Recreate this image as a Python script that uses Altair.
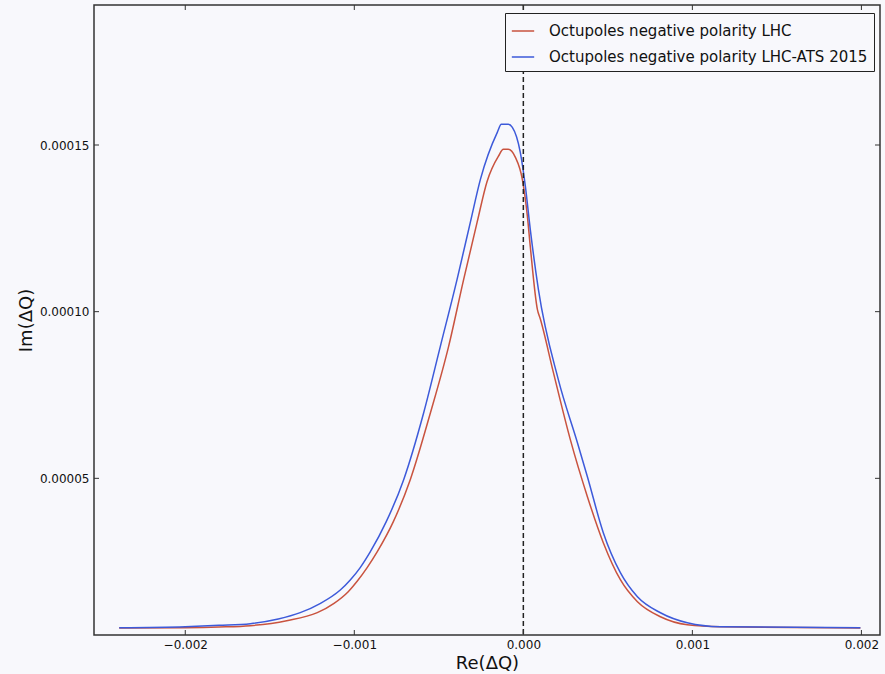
import altair as alt
import pandas as pd

# Series values
lhc_x = [-2.391e-3, -2.0e-3, -1.8e-3, -1.615e-3, -1.4e-3, -1.219e-3, -1.12e-3, -1.036e-3,
         -0.982e-3, -0.923e-3, -0.864e-3, -0.769e-3, -0.669e-3, -0.550e-3, -0.442e-3,
         -0.353e-3, -0.274e-3, -0.215e-3, -0.148e-3, -0.118e-3, -0.089e-3, -0.047e-3,
         -0.006e-3, 0.024e-3, 0.041e-3, 0.083e-3, 0.101e-3, 0.178e-3, 0.278e-3, 0.379e-3,
         0.473e-3, 0.574e-3, 0.675e-3, 0.811e-3, 0.970e-3, 1.166e-3, 1.994e-3]
lhc_y = [5.1e-6, 5.2e-6, 5.4e-6, 5.8e-6, 7.3e-6, 9.7e-6, 1.25e-5, 1.6e-5,
         1.92e-5, 2.33e-5, 2.8e-5, 3.7e-5, 4.96e-5, 6.96e-5, 8.96e-5,
         1.097e-4, 1.267e-4, 1.39e-4, 1.466e-4, 1.487e-4, 1.487e-4, 1.463e-4,
         1.397e-4, 1.286e-4, 1.196e-4, 1.007e-4, 9.77e-5, 8.17e-5, 6.16e-5, 4.45e-5,
         3.07e-5, 1.958e-5, 1.297e-5, 8.47e-6, 6.07e-6, 5.47e-6, 5.1e-6]

ats_x = [-2.391e-3, -2.0e-3, -1.8e-3, -1.615e-3, -1.45e-3, -1.320e-3, -1.2e-3, -1.083e-3,
         -1.024e-3, -0.964e-3, -0.905e-3, -0.811e-3, -0.708e-3, -0.590e-3, -0.491e-3,
         -0.392e-3, -0.314e-3, -0.254e-3, -0.154e-3, -0.130e-3, -0.089e-3, -0.065e-3,
         -0.018e-3, 0.012e-3, 0.041e-3, 0.089e-3, 0.207e-3, 0.320e-3, 0.379e-3, 0.473e-3,
         0.574e-3, 0.675e-3, 0.811e-3, 0.970e-3, 1.166e-3, 1.994e-3]
ats_y = [5.2e-6, 5.5e-6, 5.9e-6, 6.4e-6, 7.8e-6, 9.7e-6, 1.25e-5, 1.65e-5,
         1.95e-5, 2.33e-5, 2.8e-5, 3.7e-5, 4.96e-5, 6.96e-5, 8.96e-5,
         1.097e-4, 1.267e-4, 1.397e-4, 1.538e-4, 1.562e-4, 1.562e-4, 1.553e-4,
         1.478e-4, 1.376e-4, 1.247e-4, 1.067e-4, 7.96e-5, 6.07e-5, 5.05e-5, 3.37e-5,
         2.17e-5, 1.447e-5, 9.67e-6, 6.67e-6, 5.47e-6, 5.2e-6]

series_names = ["Octupoles negative polarity LHC", "Octupoles negative polarity LHC-ATS 2015"]
series_colors = ["#c9533f", "#3d5ada"]

x_ticks = [-0.002, -0.001, 0.0, 0.001, 0.002]
y_ticks = [0.00005, 0.00010, 0.00015]
x_domain = [-0.00254, 0.00211]
y_domain = [0.000003, 0.000192]

W, H = 786, 630

df = pd.concat([
    pd.DataFrame({"x": lhc_x, "y": lhc_y, "series": series_names[0]}),
    pd.DataFrame({"x": ats_x, "y": ats_y, "series": series_names[1]}),
])

xs = alt.Scale(domain=x_domain, nice=False, zero=False)
ys = alt.Scale(domain=y_domain, nice=False, zero=False)

x_axis = alt.Axis(values=x_ticks, format=".3f", title="Re(ΔQ)", grid=False, tickSize=0,
                  labelPadding=4, labelFontSize=12, titleFontSize=18, titlePadding=4,
                  labelFont="DejaVu Sans", titleFont="DejaVu Sans", titleFontWeight="normal",
                  labelColor="#111", titleColor="#111", domain=False)
y_axis = alt.Axis(values=y_ticks, format=".5f", title="Im(ΔQ)", grid=False, tickSize=0,
                  labelPadding=5, labelFontSize=12, titleFontSize=18, titlePadding=4,
                  labelFont="DejaVu Sans", titleFont="DejaVu Sans", titleFontWeight="normal",
                  labelColor="#111", titleColor="#111", domain=False)

lines = alt.Chart(df).mark_line(strokeWidth=1.5, clip=True, interpolate="monotone").encode(
    x=alt.X("x:Q", scale=xs, axis=x_axis),
    y=alt.Y("y:Q", scale=ys, axis=y_axis),
    color=alt.Color("series:N", scale=alt.Scale(domain=series_names, range=series_colors),
                    legend=alt.Legend(title=None, orient="none", legendX=411, legendY=8,
                                      symbolType="stroke", symbolSize=500, symbolStrokeWidth=1.5,
                                      labelFontSize=15, labelFont="DejaVu Sans", labelColor="#111",
                                      labelLimit=500, labelOffset=14, rowPadding=6,
                                      padding=6, strokeColor="#222", fillColor="#f8f8fc",
                                      cornerRadius=0)),
    detail="series:N",
)

zero_df = pd.DataFrame({"x": [0.0]})
zero_line = alt.Chart(zero_df).mark_rule(color="#222", strokeDash=[5, 3], strokeWidth=1.5).encode(
    x=alt.X("x:Q", scale=xs)
)

xt = pd.DataFrame({"x": x_ticks})
yt = pd.DataFrame({"y": y_ticks})
tick_style = dict(color="#333", strokeWidth=1)
xt_bottom = alt.Chart(xt).mark_rule(**tick_style).encode(
    x=alt.X("x:Q", scale=xs), y=alt.value(H), y2=alt.value(H - 5))
xt_top = alt.Chart(xt).mark_rule(**tick_style).encode(
    x=alt.X("x:Q", scale=xs), y=alt.value(0), y2=alt.value(5))
yt_left = alt.Chart(yt).mark_rule(**tick_style).encode(
    y=alt.Y("y:Q", scale=ys), x=alt.value(0), x2=alt.value(5))
yt_right = alt.Chart(yt).mark_rule(**tick_style).encode(
    y=alt.Y("y:Q", scale=ys), x=alt.value(W), x2=alt.value(W - 5))

chart = alt.layer(lines, zero_line, xt_bottom, xt_top, yt_left, yt_right).properties(
    width=W, height=H,
    autosize=alt.AutoSizeParams(type="none"),
    padding={"left": 94, "top": 5, "right": 5, "bottom": 39},
    background="#f8f8fc",
).configure_view(stroke="#333", strokeWidth=1.5, fill="#f8f8fc")

chart.save("out.html", embed_options={"renderer": "svg", "actions": False})
